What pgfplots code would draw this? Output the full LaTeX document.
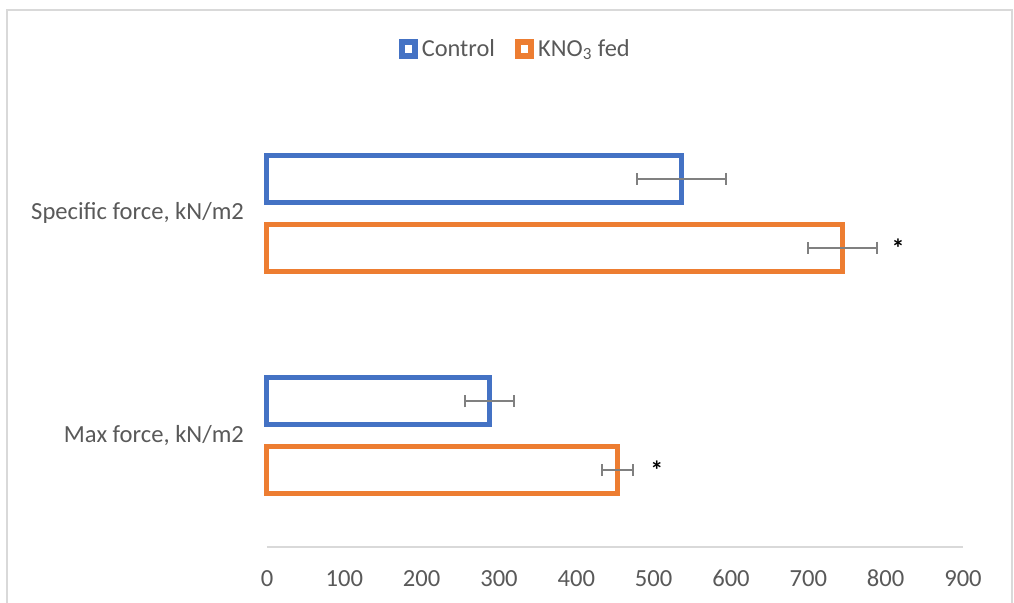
\documentclass[border=0pt]{standalone}
\usepackage{fontspec}
\setmainfont{Carlito}
\usepackage{pgfplots}
\pgfplotsset{compat=1.18}
\definecolor{cblue}{HTML}{4472C4}
\definecolor{corange}{HTML}{ED7D31}
\definecolor{txtgray}{HTML}{595959}
\definecolor{linegray}{HTML}{D9D9D9}
\definecolor{errgray}{HTML}{808080}
\begin{document}
\begin{tikzpicture}[font=\fontsize{12.2}{14.4}\selectfont]
\useasboundingbox (-133.5pt,-27.5pt) rectangle (373.5pt,273.5pt);
\draw[linegray, line width=0.75pt] (-130pt,-40pt) -- (-130pt,268.5pt) -- (372.5pt,268.5pt) -- (372.5pt,-40pt);
\begin{axis}[
  at={(0,0)}, anchor=south west,
  xbar, scale only axis, width=348pt, height=222.5pt,
  xmin=0, xmax=900, ymin=-0.5, ymax=1.5,
  xtick={0,100,...,900},
  ytick={0,1},
  yticklabels={{Max force, kN/m2},{Specific force, kN/m2}},
  axis x line*=bottom, axis y line*=left,
  x axis line style={draw=linegray, line width=0.75pt, -},
  y axis line style={draw=none},
  tick style={draw=none}, major tick length=0pt,
  ticklabel style={text=txtgray, font=\fontsize{12.3}{14.4}\selectfont},
  /pgf/number format/assume math mode=true,
  xticklabel style={yshift=-8pt},
  yticklabel style={xshift=-8pt},
  bar width=0.211,
  clip=false,
  legend style={at={(0.358,1.119)}, anchor=center, draw=none, fill=none,
    legend columns=2, text=txtgray, font=\fontsize{12.2}{14.4}\selectfont,
    /tikz/every even column/.append style={column sep=8pt},
    inner sep=0pt},
  legend cell align=left,
]
\addplot[xbar, bar shift=0.155, draw=cblue, line width=2.5pt, fill=none,
  legend image code/.code={\draw[draw=cblue, line width=3pt, fill=white] (0pt,-3.3pt) rectangle (6.6pt,3.3pt);},
  error bars/.cd, x dir=both, x explicit,
  error bar style={draw=errgray, line width=1pt},
  error mark options={draw=errgray, line width=1pt, mark size=3pt, rotate=90}]
  coordinates {(288,0) +- (31.5,0) (536,1) +- (58,0)};
\addplot[xbar, bar shift=-0.155, draw=corange, line width=2.5pt, fill=none,
  legend image code/.code={\draw[draw=corange, line width=3pt, fill=white] (0pt,-3.3pt) rectangle (6.6pt,3.3pt);},
  error bars/.cd, x dir=both, x explicit,
  error bar style={draw=errgray, line width=1pt},
  error mark options={draw=errgray, line width=1pt, mark size=3pt, rotate=90}]
  coordinates {(453,0) +- (20,0) (744,1) +- (44.5,0)};
\legend{Control, KNO\textsubscript{3} fed}
\node[font=\fontsize{13}{13}\selectfont\bfseries, text=black] at (axis cs:816,0.845) {*};
\node[font=\fontsize{13}{13}\selectfont\bfseries, text=black] at (axis cs:504,-0.155) {*};
\end{axis}
\end{tikzpicture}
\end{document}
